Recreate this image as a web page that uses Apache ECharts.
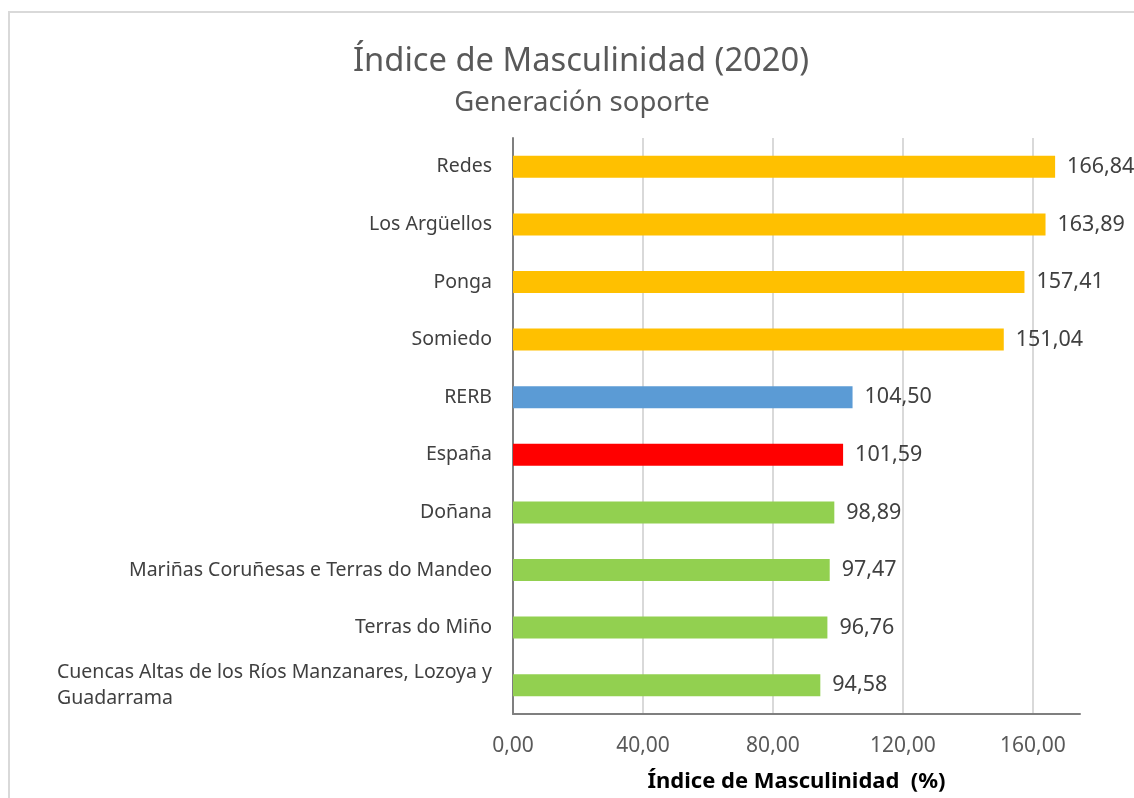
<!DOCTYPE html>
<html><head><meta charset="utf-8">
<script src="https://cdn.jsdelivr.net/npm/echarts@6/dist/echarts.min.js"></script>
<style>html,body{margin:0;padding:0;background:#fff}#c{width:1134px;height:798px}</style>
</head><body><div id="c"></div>
<script>
const categories = ["Redes","Los Argüellos","Ponga","Somiedo","RERB","España","Doñana","Mariñas Coruñesas e Terras do Mandeo","Terras do Miño","Cuencas Altas de los Ríos Manzanares, Lozoya y\nGuadarrama"];
const values = [166.84,163.89,157.41,151.04,104.50,101.59,98.89,97.47,96.76,94.58];
const barColors = ["#FFC000","#FFC000","#FFC000","#FFC000","#5B9BD5","#FF0000","#92D050","#92D050","#92D050","#92D050"];
const tickValues = [0,40,80,120,160];

const FONT = "'Noto Sans', 'Open Sans', sans-serif";
const fmt = v => v.toFixed(2).replace('.', ',');
const chart = echarts.init(document.getElementById('c'), null, {renderer:'canvas'});
chart.setOption({
  animation:false,
  backgroundColor:'#fff',
  title:[
    {text:'Índice de Masculinidad (2020)', left:576, top:40, textAlign:'center',
     textStyle:{fontFamily:FONT, fontSize:32.7, fontWeight:'normal', color:'#595959'}},
    {text:'Generación soporte', left:577, top:84, textAlign:'center',
     textStyle:{fontFamily:FONT, fontSize:27.5, fontWeight:'normal', color:'#595959'}}
  ],
  graphic:[{type:'rect', shape:{x:9,y:12,width:1300,height:1000}, style:{fill:'none', stroke:'#d9d9d9', lineWidth:2}, silent:true}],
  grid:{left:513, right:54, top:138, bottom:84, containLabel:false},
  xAxis:{type:'value', min:0, max:174.5, interval:40,
    name:'Índice de Masculinidad  (%)', nameLocation:'middle', nameGap:57,
    nameTextStyle:{fontFamily:FONT, fontSize:22, fontWeight:'bold', color:'#000'},
    axisLine:{show:true, lineStyle:{color:'#7f7f7f', width:2}},
    axisTick:{show:false},
    axisLabel:{fontFamily:FONT, fontSize:21, color:'#595959', margin:22, showMaxLabel:false,
      formatter: v => tickValues.includes(v) ? fmt(v) : ''},
    splitLine:{show:true, lineStyle:{color:['#d9d9d9','#d9d9d9','#d9d9d9','#d9d9d9','#d9d9d9','transparent'], width:2}}
  },
  yAxis:{type:'category', data:categories, inverse:true,
    axisLine:{show:true, lineStyle:{color:'#7f7f7f', width:2}},
    axisTick:{show:false},
    axisLabel:{fontFamily:FONT, fontSize:19.5, color:'#404040', margin:21, lineHeight:26,
      formatter: v => v.split('\n').map(s => '{l|' + s + '}').join('\n'),
      rich:{l:{align:'left', fontFamily:FONT, fontSize:19.5, color:'#404040', lineHeight:26}}}
  },
  series:[{type:'bar', data:values.map((v,i)=>({value:v, itemStyle:{color:barColors[i]}})),
    barWidth:22,
    label:{show:true, position:'right', distance:12, fontFamily:FONT, fontSize:21.5, color:'#404040',
      formatter: p => fmt(p.value)}
  }]
});
</script></body></html>
